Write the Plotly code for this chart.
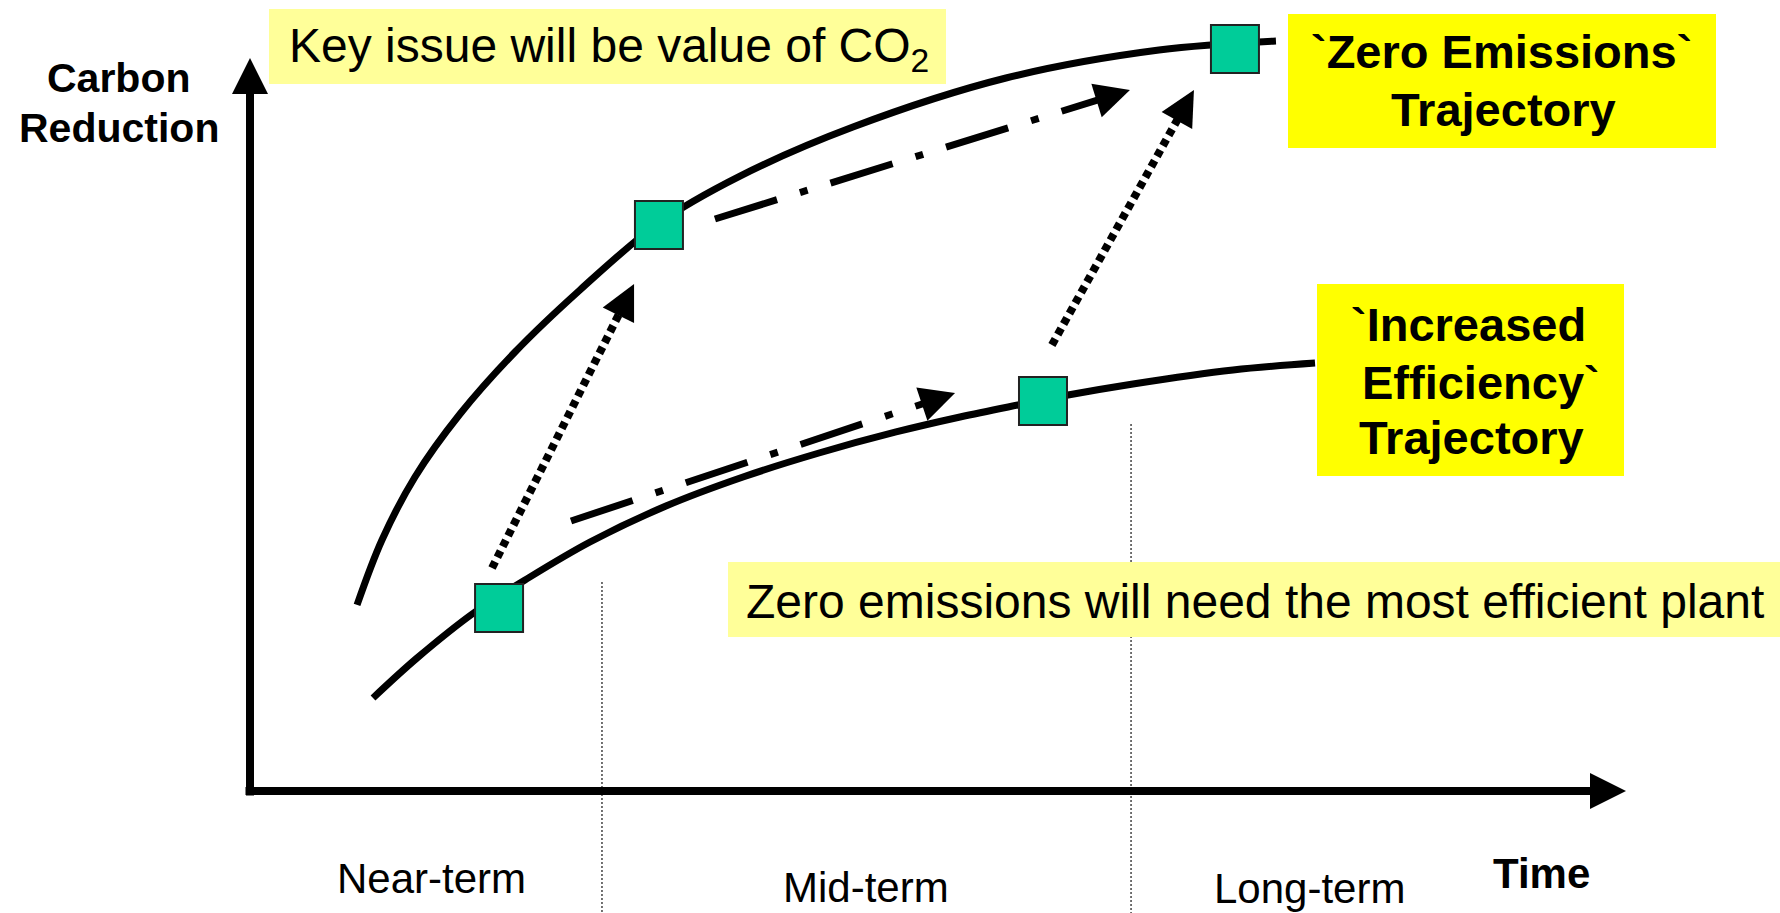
import math
import plotly.graph_objects as go

# ---------------- data (time units 0..100, carbon reduction units 0..100) ----------------
zero_time = [7.78, 9.59, 11.99, 15.26, 19.26, 23.98, 29.72, 35.61, 43.82, 54.94, 66.06, 74.56]
zero_reduction = [25.38, 34.24, 42.84, 51.43, 59.89, 68.35, 77.49, 83.90, 90.59, 97.27, 101.09, 102.32]

eff_time = [8.94, 12.14, 16.35, 19.99, 24.71, 30.23, 35.83, 41.35, 46.95, 51.60, 55.81, 59.45,
            64.17, 71.44, 77.40]
eff_reduction = [12.69, 18.14, 24.42, 28.79, 33.97, 38.88, 42.84, 46.11, 48.98, 51.02, 52.66, 54.02,
                 55.53, 57.44, 58.39]

step_time = [18.10, 29.72, 57.63, 71.58]
step_reduction = [24.97, 77.22, 53.20, 101.23]

# dotted arrows: jump from efficiency to zero-emission trajectory
dotted_start_time = [17.59, 58.28]
dotted_start_reduction = [30.42, 60.85]
dotted_end_time = [27.91, 68.60]
dotted_end_reduction = [69.17, 95.63]

# dash-dot arrows: progress along trajectories
dashdot_start_time = [23.33, 33.79]
dashdot_start_reduction = [36.83, 78.04]
dashdot_end_time = [51.24, 63.95]
dashdot_end_reduction = [54.30, 95.63]

period_labels = ["Near-term", "Mid-term", "Long-term"]
period_bounds = [25.58, 64.03]
period_bound_tops = [28.5, 50.07]

axis_max = 100

# ---------------- layout geometry ----------------
W, H = 1780, 913
X0_PX, Y0_PX = 250, 791          # pixel position of the axis origin
PX_PER_T, PX_PER_R = 13.76, 7.33  # pixels per data unit
Y_BOTTOM = (Y0_PX - H) / PX_PER_R

FONT = "Liberation Sans, Arial, Helvetica, sans-serif"
TEAL = "#00CC99"
LIGHT_YELLOW = "#FFFF99"
YELLOW = "#FFFF00"


def paper(px, py):
    return px / W, 1 - py / H


def unit_px(t0, r0, t1, r1):
    dx = (t1 - t0) * PX_PER_T
    dy = (r1 - r0) * PX_PER_R
    n = math.hypot(dx, dy)
    return dx / n, dy / n


def offset(t, r, ux, uy, dist, nx=0.0, ny=0.0, side=0.0):
    """move from data point (t, r) by dist px along (ux, uy) and side px along (nx, ny)"""
    return (t + (ux * dist + nx * side) / PX_PER_T,
            r + (uy * dist + ny * side) / PX_PER_R)


fig = go.Figure()
shapes = []
annotations = []

# period separators
for b, top in zip(period_bounds, period_bound_tops):
    fig.add_trace(go.Scatter(x=[b, b], y=[top, Y_BOTTOM], mode="lines",
                             line=dict(color="#444444", width=1.5, dash="2px,2px"),
                             hoverinfo="skip", showlegend=False))

# trajectories
fig.add_trace(go.Scatter(x=zero_time, y=zero_reduction, mode="lines", line_shape="spline",
                         line=dict(color="black", width=7, smoothing=1.0), showlegend=False))
fig.add_trace(go.Scatter(x=eff_time, y=eff_reduction, mode="lines", line_shape="spline",
                         line=dict(color="black", width=7, smoothing=1.0), showlegend=False))


def head(t1, r1, ux, uy, length, width):
    nx, ny = -uy, ux
    bx1, by1 = offset(t1, r1, ux, uy, -length, nx, ny, width / 2)
    bx2, by2 = offset(t1, r1, ux, uy, -length, nx, ny, -width / 2)
    shapes.append(dict(type="path", xref="x", yref="y",
                       path=f"M{t1},{r1} L{bx1},{by1} L{bx2},{by2} Z",
                       fillcolor="black", line=dict(width=0), layer="above"))


def arrow(t0, r0, t1, r1, dash, width=7, hl=35, hw=35, pull=24):
    ux, uy = unit_px(t0, r0, t1, r1)
    te, re_ = offset(t1, r1, ux, uy, -pull)
    fig.add_trace(go.Scatter(x=[t0, te], y=[r0, re_], mode="lines",
                             line=dict(color="black", width=width, dash=dash),
                             hoverinfo="skip", showlegend=False))
    head(t1, r1, ux, uy, hl, hw)


for a, b, c, d in zip(dotted_start_time, dotted_start_reduction, dotted_end_time, dotted_end_reduction):
    arrow(a, b, c, d, "7px,5px", width=8)
for a, b, c, d in zip(dashdot_start_time, dashdot_start_reduction, dashdot_end_time, dashdot_end_reduction):
    arrow(a, b, c, d, "65px,24px,8px,24px", width=7)

# axes with arrow heads
y_tail = -4.5 / PX_PER_R
x_tail = -4.5 / PX_PER_T
arrow(0, y_tail, 0, axis_max, "solid", width=8, hl=36, hw=36, pull=30)
arrow(x_tail, 0, axis_max, 0, "solid", width=8, hl=36, hw=36, pull=30)

# milestone markers
fig.add_trace(go.Scatter(x=step_time, y=step_reduction, mode="markers",
                         marker=dict(symbol="square", size=48, color=TEAL,
                                     line=dict(color="#222222", width=2)),
                         showlegend=False))

# boxes
for (x0, y0, x1, y1, col) in [(269, 9, 946, 84, LIGHT_YELLOW),
                              (1288, 14, 1716, 148, YELLOW),
                              (1317, 284, 1624, 476, YELLOW),
                              (728, 562, 1780, 637, LIGHT_YELLOW)]:
    px0, py0 = paper(x0, y1)
    px1, py1 = paper(x1, y0)
    shapes.append(dict(type="rect", xref="paper", yref="paper", x0=px0, y0=py0,
                       x1=px1, y1=py1, fillcolor=col, line=dict(width=0), layer="above"))


def text(s, px, py, size, bold=False, xanchor="center"):
    x, y = paper(px, py)
    annotations.append(dict(x=x, y=y, xref="paper", yref="paper", showarrow=False,
                            text=f"<b>{s}</b>" if bold else s, xanchor=xanchor,
                            yanchor="middle", font=dict(family=FONT, size=size, color="black")))


text("Carbon", 119, 78, 41, bold=True)
text("Reduction", 119, 128, 41, bold=True)
text("Key issue will be value of CO<sub>2</sub>", 287, 49, 48, xanchor="left")
text("`Zero Emissions`", 1501, 52, 47, bold=True)
text("Trajectory", 1503, 110, 47, bold=True)
text("`Increased", 1468, 324, 47, bold=True)
text("Efficiency`", 1481, 382, 47, bold=True)
text("Trajectory", 1471, 438, 47, bold=True)
text("Zero emissions will need the most efficient plant", 744, 601, 48, xanchor="left")
for lab, cx, cy in zip(period_labels, [431, 866, 1309], [878, 887, 888]):
    text(lab, cx, cy, 42)
text("Time", 1541, 873, 42, bold=True)

fig.update_layout(
    width=W, height=H, margin=dict(l=0, r=0, t=0, b=0),
    paper_bgcolor="white", plot_bgcolor="white",
    xaxis=dict(range=[-X0_PX / PX_PER_T, (W - X0_PX) / PX_PER_T], visible=False, fixedrange=True),
    yaxis=dict(range=[Y_BOTTOM, Y0_PX / PX_PER_R], visible=False, fixedrange=True),
    annotations=annotations, shapes=shapes, showlegend=False,
)

fig.write_html("out.html", config={"displayModeBar": False},
               post_script="document.body.style.margin='0';document.body.style.overflow='hidden';")
